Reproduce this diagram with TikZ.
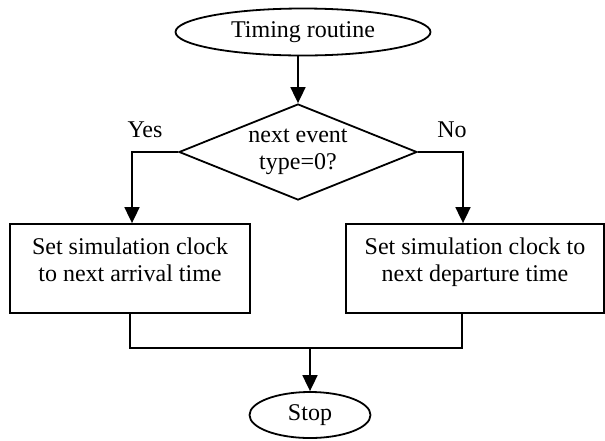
\documentclass[tikz,border=0pt]{standalone}
\usepackage{fontspec}
\setmainfont{Liberation Serif}
\usetikzlibrary{shapes.geometric,arrows.meta}
\begin{document}
\begin{tikzpicture}[x=1pt,y=-1pt,
  every node/.style={font=\fontsize{24}{27.5}\selectfont, align=center, inner sep=0pt},
  flow/.style={line width=1.8pt},
  arr/.style={flow, -{Triangle[length=16pt,width=15pt]}},
  term/.style={draw, line width=1.8pt, ellipse},
  decide/.style={draw, line width=1.8pt, diamond, aspect=2.5},
  proc/.style={draw, line width=1.8pt, rectangle}]
  \useasboundingbox (0,0) rectangle (605,440);

  % terminals, decision and process boxes
  \node[term, minimum width=255pt, minimum height=47pt] (start) at (303,32) {Timing routine};
  \node[decide, minimum width=238pt, minimum height=96pt] (dec) at (298,152) {next event\\type=0?};
  \node[proc, minimum width=240pt, minimum height=89pt] (lbox) at (130,268.5)
    {Set simulation clock\\to next arrival time\\[-10pt]};
  \node[proc, minimum width=258pt, minimum height=89pt] (rbox) at (475,268.5)
    {Set simulation clock to\\next departure time\\[-10pt]};
  \node[term, minimum width=121pt, minimum height=46pt] (stop) at (310,415) {Stop};

  % branch labels
  \node (yes) at (145,130) {Yes};
  \node (no) at (452,130) {No};

  % connectors
  \coordinate (merge) at (310,348);
  \draw[arr] (dec.north |- start.south) -- (dec.north);
  \draw[arr] (dec.west) -| ([xshift=2pt]lbox.north);
  \draw[arr] (dec.east) -| ([xshift=-12pt]rbox.north);
  \draw[flow] (lbox.south) |- (merge) -| ([xshift=-13pt]rbox.south);
  \draw[arr] (merge) -- (stop.north);
\end{tikzpicture}
\end{document}
